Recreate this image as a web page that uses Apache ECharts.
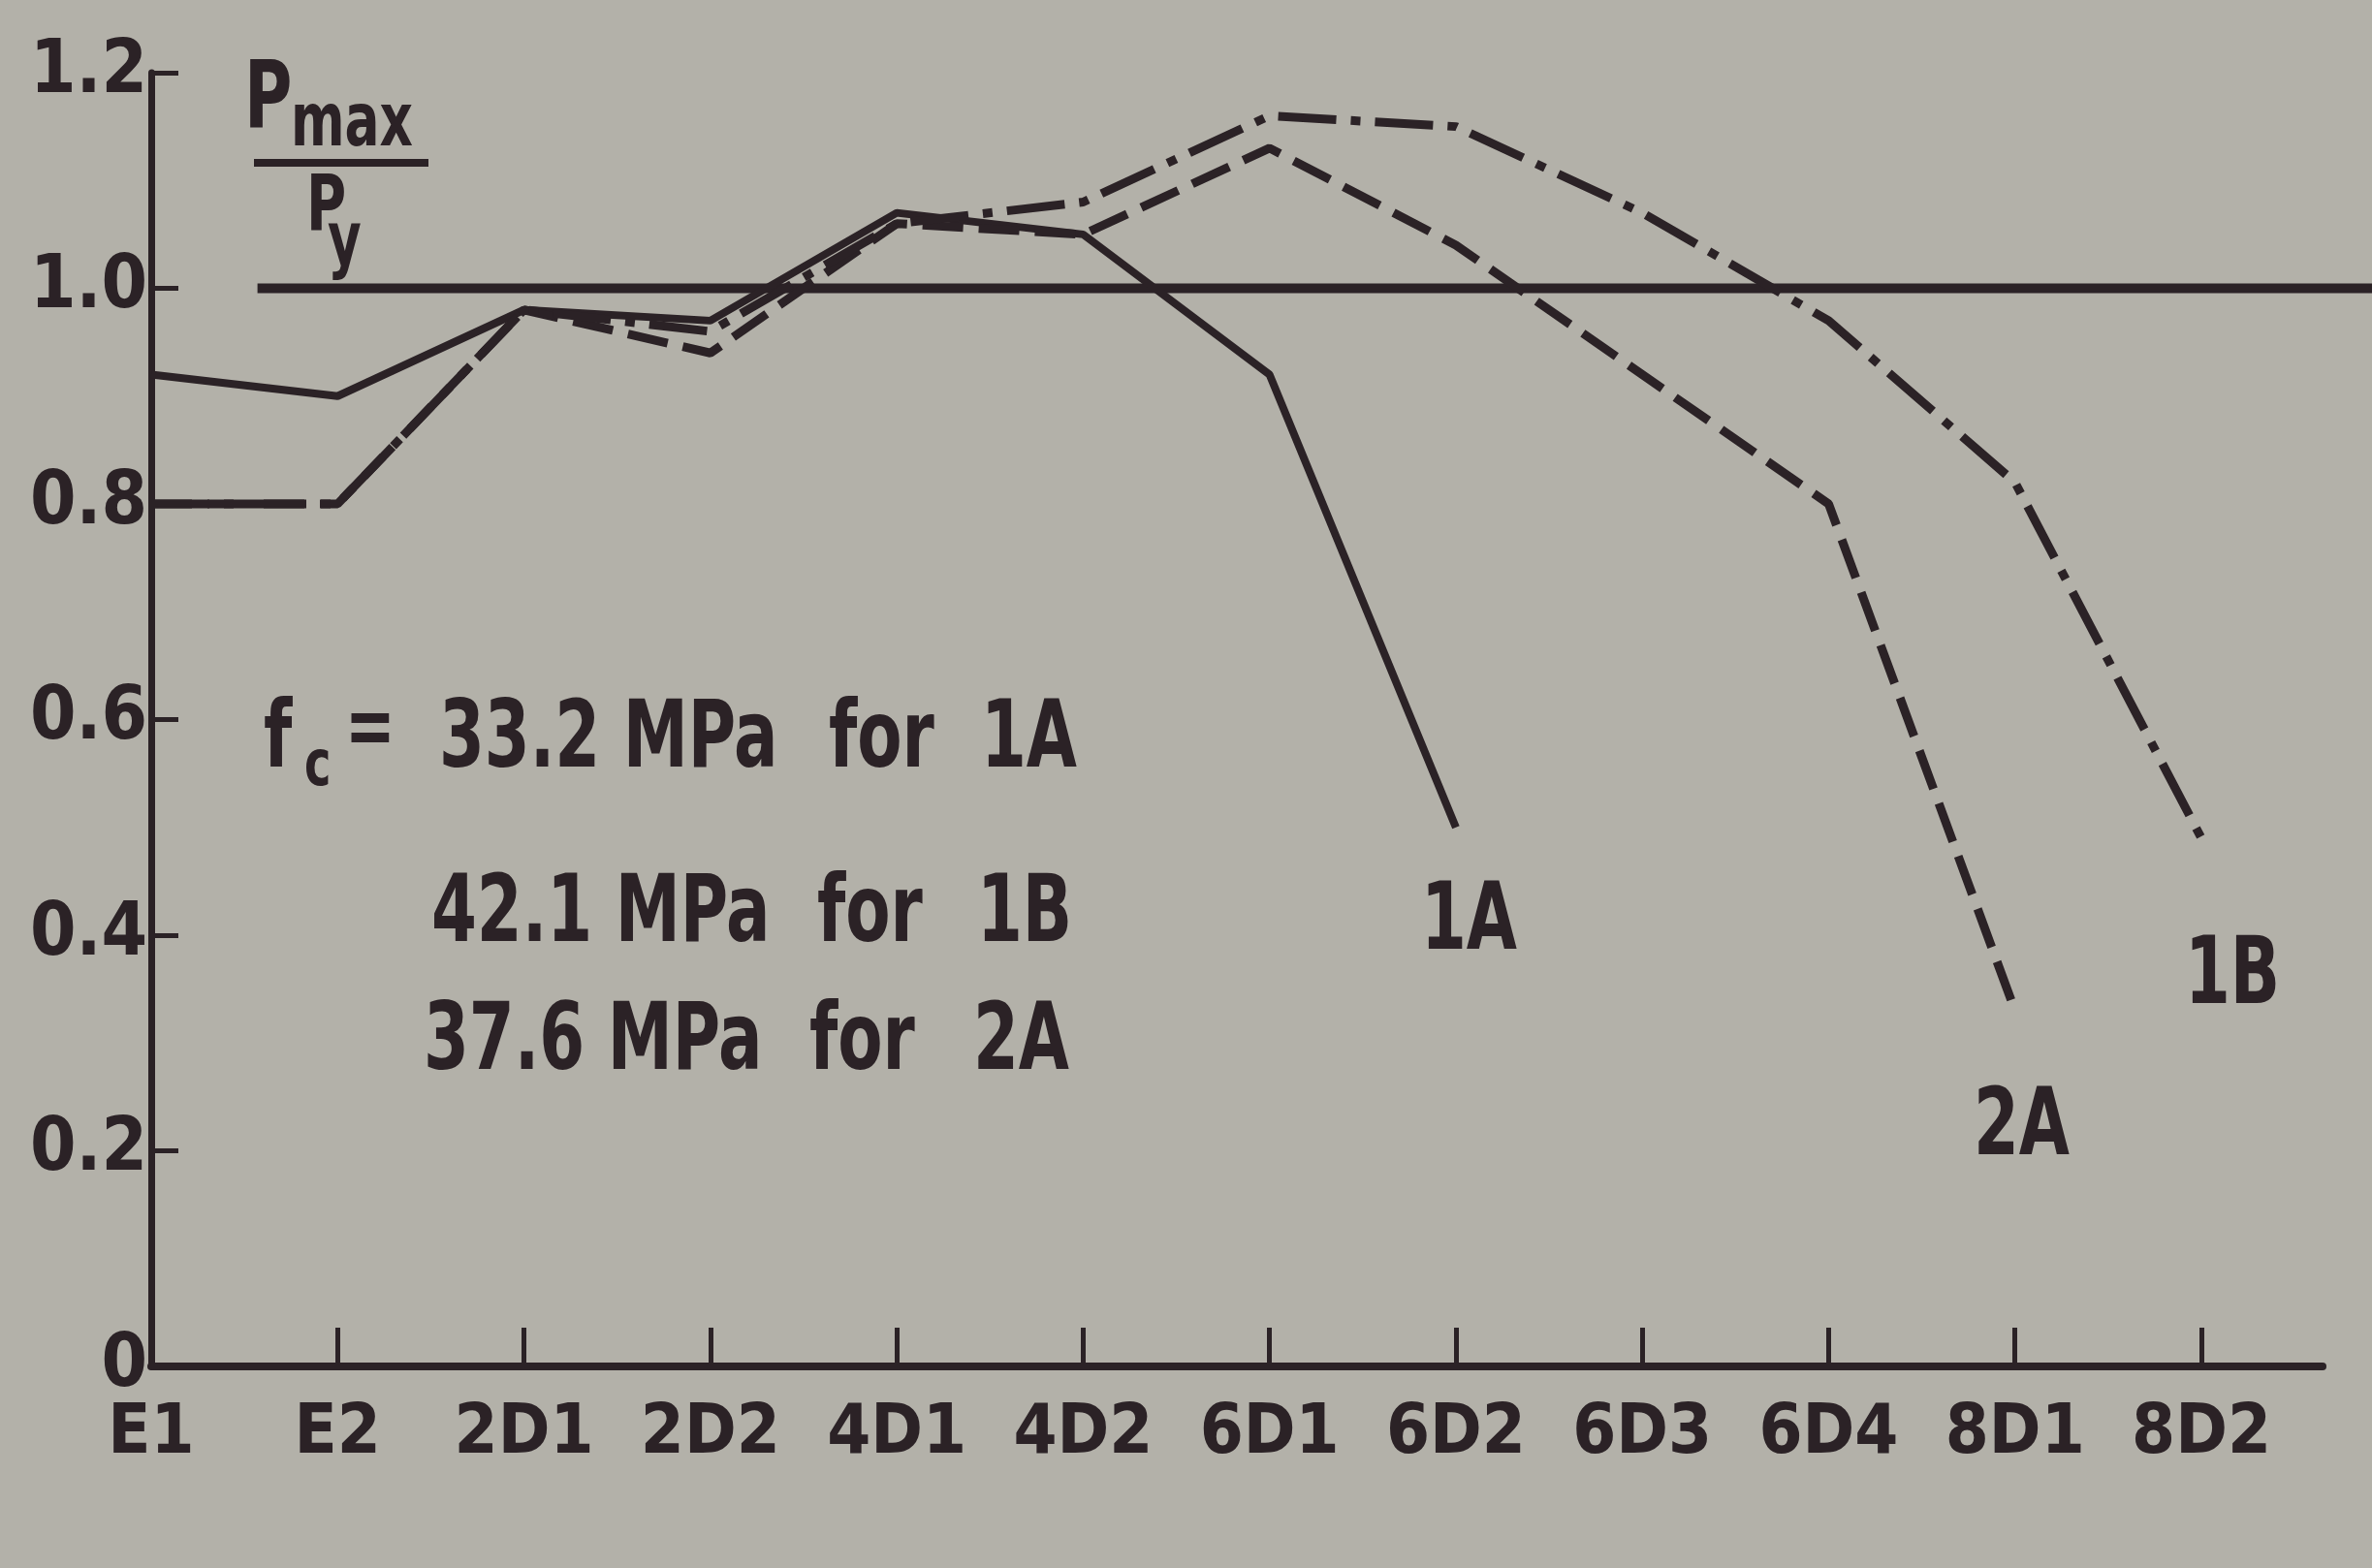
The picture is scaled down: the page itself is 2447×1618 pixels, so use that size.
<!DOCTYPE html>
<html>
<head>
<meta charset="utf-8">
<script src="https://cdn.jsdelivr.net/npm/echarts@6/dist/echarts.min.js"></script>
<style>
html, body { margin: 0; padding: 0; background: #b3b1a9; }
#main { width: 2447px; height: 1618px; }
</style>
</head>
<body>
<div id="main"></div>
<script>
// specimen codes along the x axis
var categories = ['E1', 'E2', '2D1', '2D2', '4D1', '4D2', '6D1', '6D2', '6D3', '6D4', '8D1', '8D2'];
var yTicks = [0, 0.2, 0.4, 0.6, 0.8, 1.0, 1.2];

// Pmax / Py
var series1A = [0.92, 0.90, 0.98, 0.97, 1.07, 1.05, 0.92, 0.50];
var series2A = [0.80, 0.80, 0.98, 0.94, 1.06, 1.05, 1.13, 1.04, 0.92, 0.80, 0.33];
var series1B = [0.80, 0.80, 0.98, 0.96, 1.06, 1.08, 1.16, 1.15, 1.07, 0.97, 0.82, 0.49];
var refLine = [[0.57, 1.0], [11.92, 1.0]];

var ink = '#2b2226';
var font = '"DejaVu Sans Condensed", "DejaVu Sans", sans-serif';

function pairs(arr) {
    var out = [];
    for (var i = 0; i < arr.length; i++) {
        out.push([i, arr[i]]);
    }
    return out;
}

// narrow bold text, squeezed horizontally like the original lettering
function txt(x, y, s, size) {
    return {
        type: 'text', x: x, y: y, scaleX: 0.78,
        style: { text: s, fill: ink, font: 'bold ' + size + 'px ' + font, textVerticalAlign: 'top' }
    };
}

var chart = echarts.init(document.getElementById('main'));
var option = {
    backgroundColor: '#b3b1a9',
    animation: false,
    grid: [
        { left: 156, right: 51, top: 75, bottom: 208 },
        { left: 156, right: 0, top: 75, bottom: 208 }
    ],
    xAxis: [{
        type: 'value', min: 0, max: 11.65, gridIndex: 0,
        splitLine: { show: false },
        axisLine: { lineStyle: { color: ink, width: 8 } },
        axisTick: { inside: true, length: 40, customValues: [1, 2, 3, 4, 5, 6, 7, 8, 9, 10, 11], lineStyle: { color: ink, width: 5 } },
        axisLabel: {
            customValues: [0, 1, 2, 3, 4, 5, 6, 7, 8, 9, 10, 11],
            formatter: function (v) { return categories[Math.round(v)] || ''; },
            color: ink, fontFamily: font, fontWeight: 'bold', fontSize: 72, margin: 34
        }
    }, {
        type: 'value', min: 0, max: 11.914, gridIndex: 1, show: false
    }],
    yAxis: [{
        type: 'value', min: 0, max: 1.2, interval: 0.2, gridIndex: 0,
        splitLine: { show: false },
        axisLine: { show: true, lineStyle: { color: ink, width: 7 } },
        axisTick: { inside: true, length: 28, lineStyle: { color: ink, width: 5 } },
        axisLabel: {
            formatter: function (v) { return v === 0 ? '0' : v.toFixed(1); },
            color: ink, fontFamily: font, fontWeight: 'bold', fontSize: 76, margin: 4
        }
    }, {
        type: 'value', min: 0, max: 1.2, gridIndex: 1, show: false
    }],
    series: [
        {
            name: 'ref', type: 'line', xAxisIndex: 1, yAxisIndex: 1,
            data: refLine, symbol: 'none',
            lineStyle: { color: ink, width: 10 }
        },
        {
            name: '1A', type: 'line', data: pairs(series1A), symbol: 'none',
            lineStyle: { color: ink, width: 8 }
        },
        {
            name: '2A', type: 'line', data: pairs(series2A), symbol: 'none',
            lineStyle: { color: ink, width: 9, type: [42, 16] }
        },
        {
            name: '1B', type: 'line', data: pairs(series1B), symbol: 'none',
            lineStyle: { color: ink, width: 9, type: [60, 15, 10, 15] }
        }
    ],
    graphic: [
        // y axis title Pmax / Py
        txt(252, 58, 'P', 96),
        txt(300, 92, 'max', 76),
        { type: 'line', shape: { x1: 262, y1: 168, x2: 442, y2: 168 }, style: { stroke: ink, lineWidth: 8 } },
        txt(316, 176, 'P', 80),
        txt(338, 214, 'y', 76),
        // concrete strengths
        txt(272, 718, 'f', 96),
        txt(314, 760, 'c', 66),
        txt(356, 712, '=', 88),
        txt(453, 718, '33.2 MPa', 96),
        txt(855, 718, 'for', 96),
        txt(1012, 718, '1A', 96),
        txt(445, 898, '42.1 MPa', 96),
        txt(843, 898, 'for', 96),
        txt(1008, 898, '1B', 96),
        txt(437, 1030, '37.6 MPa', 96),
        txt(835, 1030, 'for', 96),
        txt(1004, 1030, '2A', 96),
        // curve names
        txt(1466, 906, '1A', 96),
        txt(2036, 1118, '2A', 96),
        txt(2254, 962, '1B', 96)
    ]
};
chart.setOption(option);
window.onresize = chart.resize;
</script>
</body>
</html>
